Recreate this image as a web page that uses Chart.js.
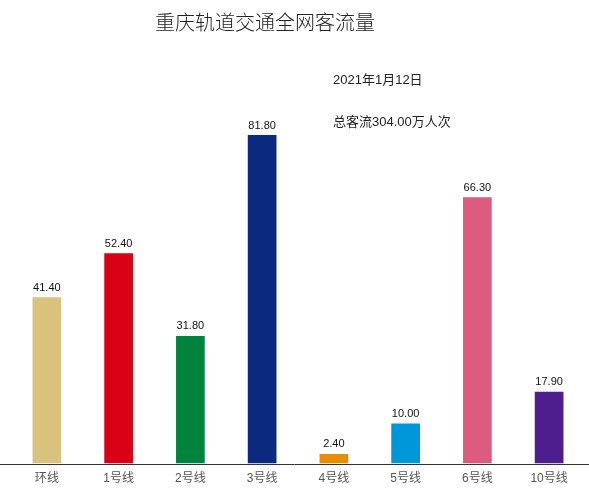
<!DOCTYPE html>
<html>
<head>
<meta charset="utf-8">
<script src="https://cdn.jsdelivr.net/npm/chart.js@4"></script>
<style>
  html, body { margin: 0; padding: 0; background: #fff; }
  #wrap { width: 589px; height: 491px; }
</style>
</head>
<body>
<div id="wrap"><canvas id="flowChart"></canvas></div>
<script>
const lines = ['环线', '1号线', '2号线', '3号线', '4号线', '5号线', '6号线', '10号线']; // categories
const flow = [41.4, 52.4, 31.8, 81.8, 2.4, 10.0, 66.3, 17.9]; // 万人次
const lineColors = ['#D9C27E', '#DA0015', '#00843D', '#0B2A7F', '#E88E00', '#0096DA', '#DC5B7F', '#4E1E8E'];
const titleText = '重庆轨道交通全网客流量';
const dateText = '2021年1月12日';
const totalText = '总客流304.00万人次';

const cjk = '"Liberation Sans", Arial, "Noto Sans CJK SC", sans-serif';

// title, notes, value labels and full-width baseline
const decor = {
    id: 'decor',
    afterDatasetsDraw(chart) {
        const ctx = chart.ctx;
        const area = chart.chartArea;
        ctx.save();
        // baseline across whole width
        ctx.strokeStyle = '#333';
        ctx.lineWidth = 1;
        ctx.beginPath();
        ctx.moveTo(0, Math.round(area.bottom) + 0.5);
        ctx.lineTo(chart.width, Math.round(area.bottom) + 0.5);
        ctx.stroke();

        // values on top of bars
        ctx.fillStyle = '#111';
        ctx.font = '11px ' + cjk;
        ctx.textAlign = 'center';
        ctx.textBaseline = 'bottom';
        chart.getDatasetMeta(0).data.forEach((bar, i) => {
            ctx.fillText(flow[i].toFixed(2), bar.x, bar.y - 4);
        });

        // title
        ctx.font = '300 20px "Noto Sans CJK SC", serif';
        ctx.fillStyle = '#222';
        ctx.textBaseline = 'middle';
        ctx.fillText(titleText, 265, 22);

        // notes
        ctx.font = '13px ' + cjk;
        ctx.textAlign = 'left';
        ctx.fillStyle = '#222';
        ctx.fillText(dateText, 333, 80);
        ctx.fillText(totalText, 333, 122);
        ctx.restore();
    }
};

const config = {
    type: 'bar',
    data: {
        labels: lines,
        datasets: [{
            data: flow,
            backgroundColor: lineColors,
            barPercentage: 0.4,
            categoryPercentage: 1
        }]
    },
    options: {
        responsive: true,
        maintainAspectRatio: false,
        animation: false,
        layout: { padding: { left: 11, right: 4, top: 62, bottom: 5 } },
        scales: {
            x: {
                grid: { display: false },
                border: { display: false },
                ticks: {
                    color: '#555',
                    font: { family: cjk, size: 12 },
                    padding: 0
                }
            },
            y: {
                display: false,
                min: 0,
                max: 100
            }
        },
        plugins: {
            legend: { display: false },
            tooltip: { enabled: false }
        }
    },
    plugins: [decor]
};

const ctx = document.getElementById('flowChart').getContext('2d');
const flowChart = new Chart(ctx, config);
</script>
</body>
</html>
